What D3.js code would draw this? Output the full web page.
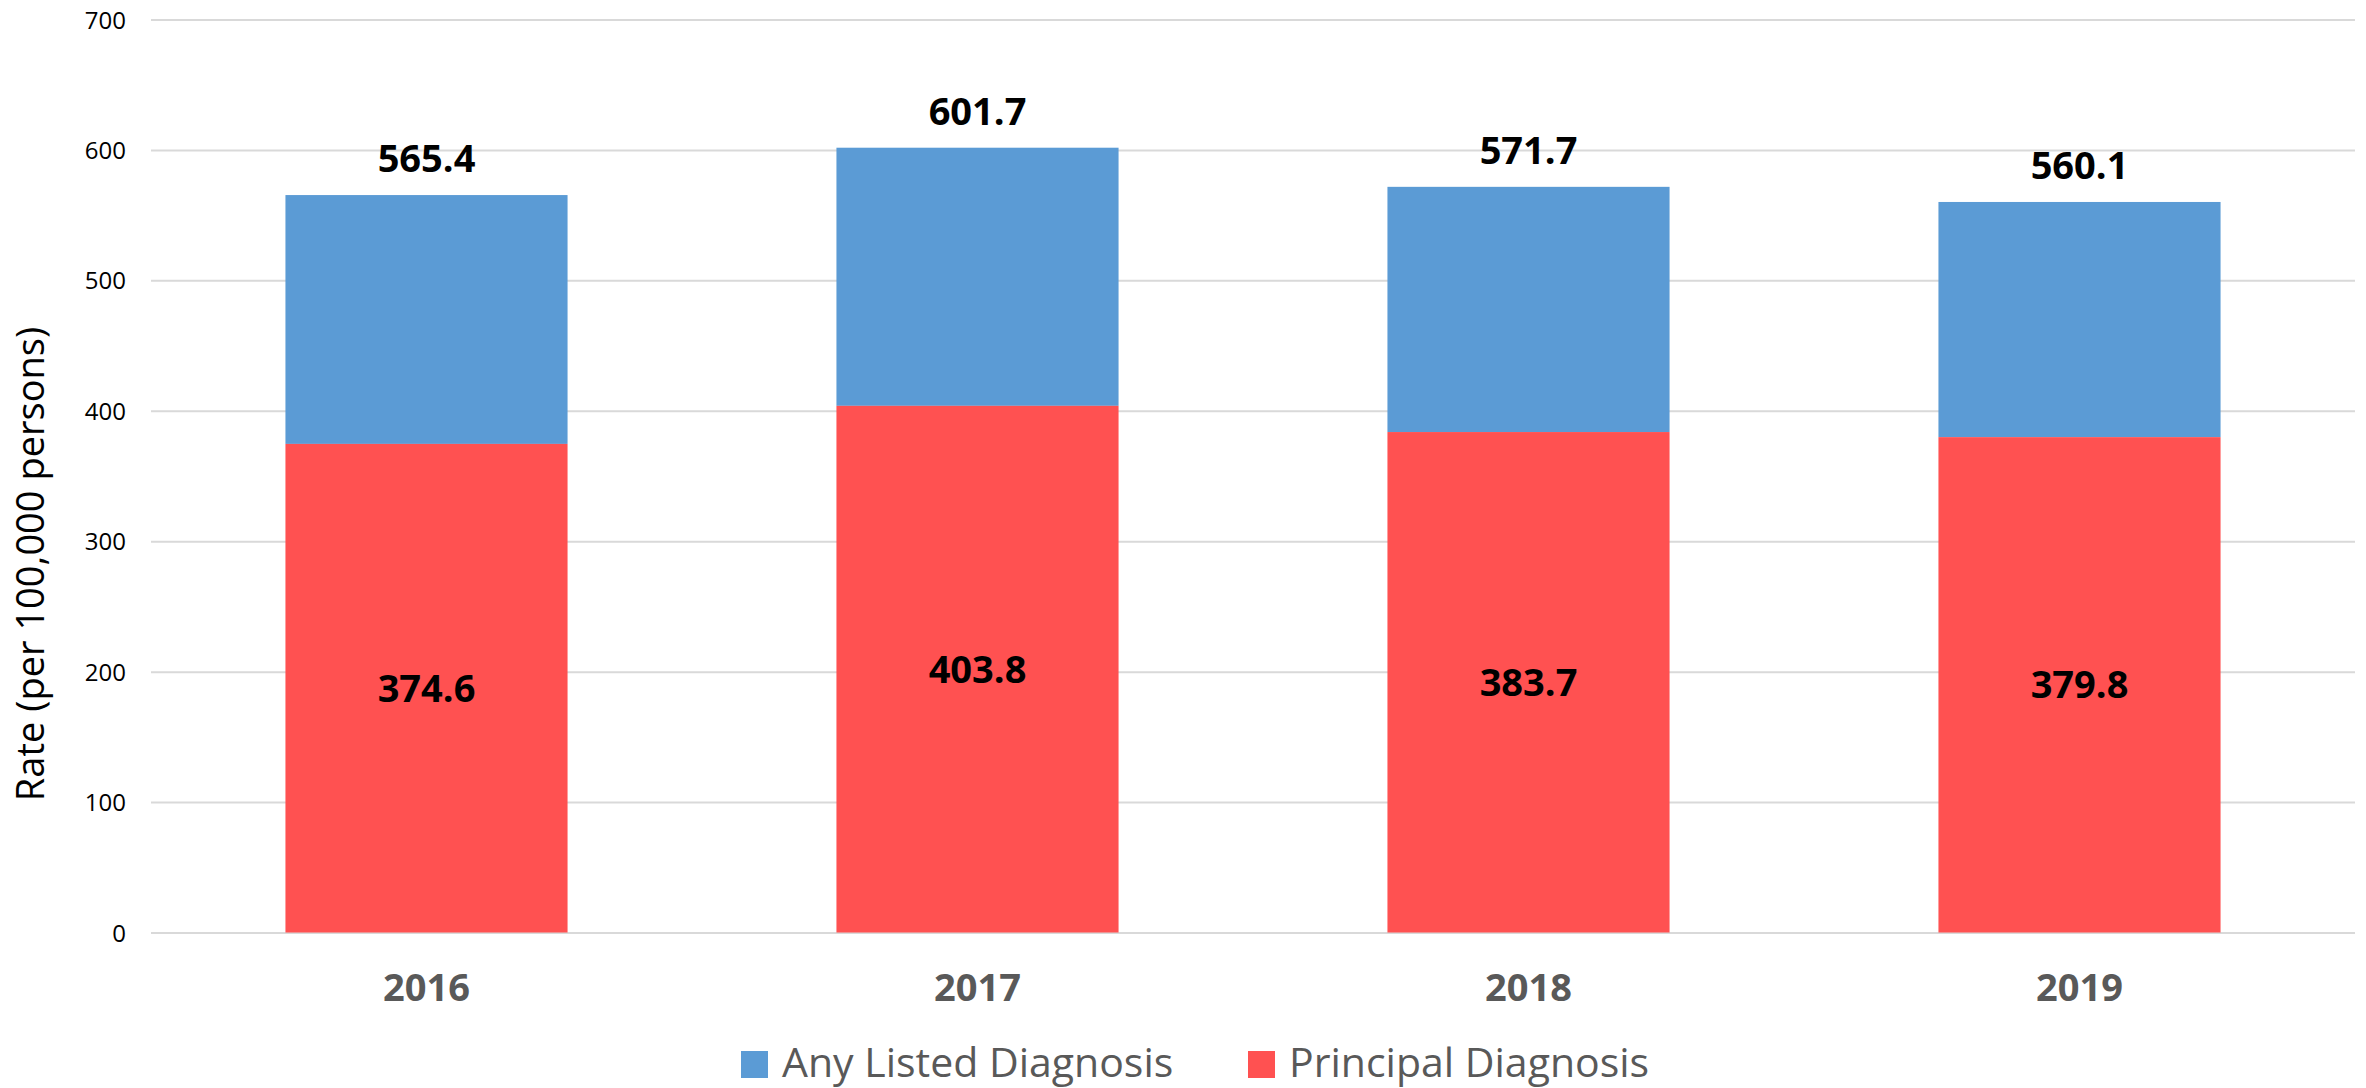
<!DOCTYPE html>
<html>
<head>
<meta charset="utf-8">
<script src="https://cdn.jsdelivr.net/npm/d3@7"></script>
<style>
  html, body { margin: 0; padding: 0; background: #ffffff; }
  svg { display: block; font-family: "Open Sans", "Noto Sans", sans-serif; }
</style>
</head>
<body>
<svg id="chart" width="2366" height="1088"></svg>
<script>
// ---- data ----
const categories = ["2016", "2017", "2018", "2019"];
const anyListed = [565.4, 601.7, 571.7, 560.1];
const principal = [374.6, 403.8, 383.7, 379.8];
const yTicks = [0, 100, 200, 300, 400, 500, 600, 700];
const seriesNames = ["Any Listed Diagnosis", "Principal Diagnosis"];
const seriesColors = ["#5B9BD5", "#FF5151"];
const yTitle = "Rate (per 100,000 persons)";

// ---- layout ----
const W = 2366, H = 1088;
const plot = { left: 151, right: 2355, top: 19.5, bottom: 932.5 };

const svg = d3.select("#chart");

const x = d3.scaleBand()
  .domain(categories)
  .range([plot.left, plot.right])
  .paddingInner(0.488)
  .paddingOuter(0.244);

const y = d3.scaleLinear()
  .domain([0, 700])
  .range([plot.bottom, plot.top]);

// gridlines + tick labels
const yAxis = d3.axisLeft(y)
  .tickValues(yTicks)
  .tickSize(-(plot.right - plot.left))
  .tickPadding(25)
  .tickFormat(d3.format("d"));

const gy = svg.append("g")
  .attr("transform", `translate(${plot.left},0)`)
  .call(yAxis);
gy.select(".domain").remove();
gy.selectAll(".tick line")
  .attr("stroke", "#D9D9D9")
  .attr("stroke-width", 2);
gy.selectAll(".tick text")
  .attr("font-family", "'Open Sans', sans-serif")
  .attr("font-size", 24)
  .attr("fill", "#000000")
  .attr("dy", "0.357em");

// data rows
const rows = categories.map((c, i) => ({ cat: c, total: anyListed[i], principal: principal[i] }));

// blue segment (principal -> any listed)
svg.append("g").selectAll("rect")
  .data(rows)
  .join("rect")
  .attr("x", d => x(d.cat))
  .attr("width", x.bandwidth())
  .attr("y", d => y(d.total))
  .attr("height", d => y(d.principal) - y(d.total))
  .attr("fill", seriesColors[0]);

// red segment (0 -> principal)
svg.append("g").selectAll("rect")
  .data(rows)
  .join("rect")
  .attr("x", d => x(d.cat))
  .attr("width", x.bandwidth())
  .attr("y", d => y(d.principal))
  .attr("height", d => y(0) - y(d.principal))
  .attr("fill", seriesColors[1]);

// total labels
svg.append("g").selectAll("text")
  .data(rows)
  .join("text")
  .attr("x", d => x(d.cat) + x.bandwidth() / 2)
  .attr("y", d => y(d.total) - 23)
  .attr("text-anchor", "middle")
  .attr("font-size", 38)
  .attr("font-weight", "bold")
  .attr("fill", "#000000")
  .text(d => d.total.toFixed(1));

// principal labels (centered)
svg.append("g").selectAll("text")
  .data(rows)
  .join("text")
  .attr("x", d => x(d.cat) + x.bandwidth() / 2)
  .attr("y", d => (y(0) + y(d.principal)) / 2)
  .attr("dy", "0.357em")
  .attr("text-anchor", "middle")
  .attr("font-size", 38)
  .attr("font-weight", "bold")
  .attr("fill", "#000000")
  .text(d => d.principal.toFixed(1));

// x axis labels
const xAxis = d3.axisBottom(x).tickSize(0).tickPadding(0);
const gx = svg.append("g")
  .attr("transform", `translate(0,${plot.bottom})`)
  .call(xAxis);
gx.select(".domain").remove();
gx.selectAll(".tick text")
  .attr("font-family", "'Open Sans', sans-serif")
  .attr("font-size", 38)
  .attr("font-weight", "bold")
  .attr("fill", "#595959")
  .attr("y", 0)
  .attr("dy", 0)
  .attr("transform", "translate(0,68)");

// y title
svg.append("text")
  .attr("transform", "translate(44,564) rotate(-90)")
  .attr("text-anchor", "middle")
  .attr("font-size", 38)
  .attr("fill", "#000000")
  .text(yTitle);

// legend
const legendItems = [
  { name: seriesNames[0], color: seriesColors[0], x: 741 },
  { name: seriesNames[1], color: seriesColors[1], x: 1248 }
];
const lg = svg.append("g");
legendItems.forEach(it => {
  lg.append("rect")
    .attr("x", it.x).attr("y", 1051)
    .attr("width", 27).attr("height", 27)
    .attr("fill", it.color);
  lg.append("text")
    .attr("x", it.x + 41).attr("y", 1077)
    .attr("font-size", 41)
    .attr("fill", "#595959")
    .text(it.name);
});
</script>
</body>
</html>
